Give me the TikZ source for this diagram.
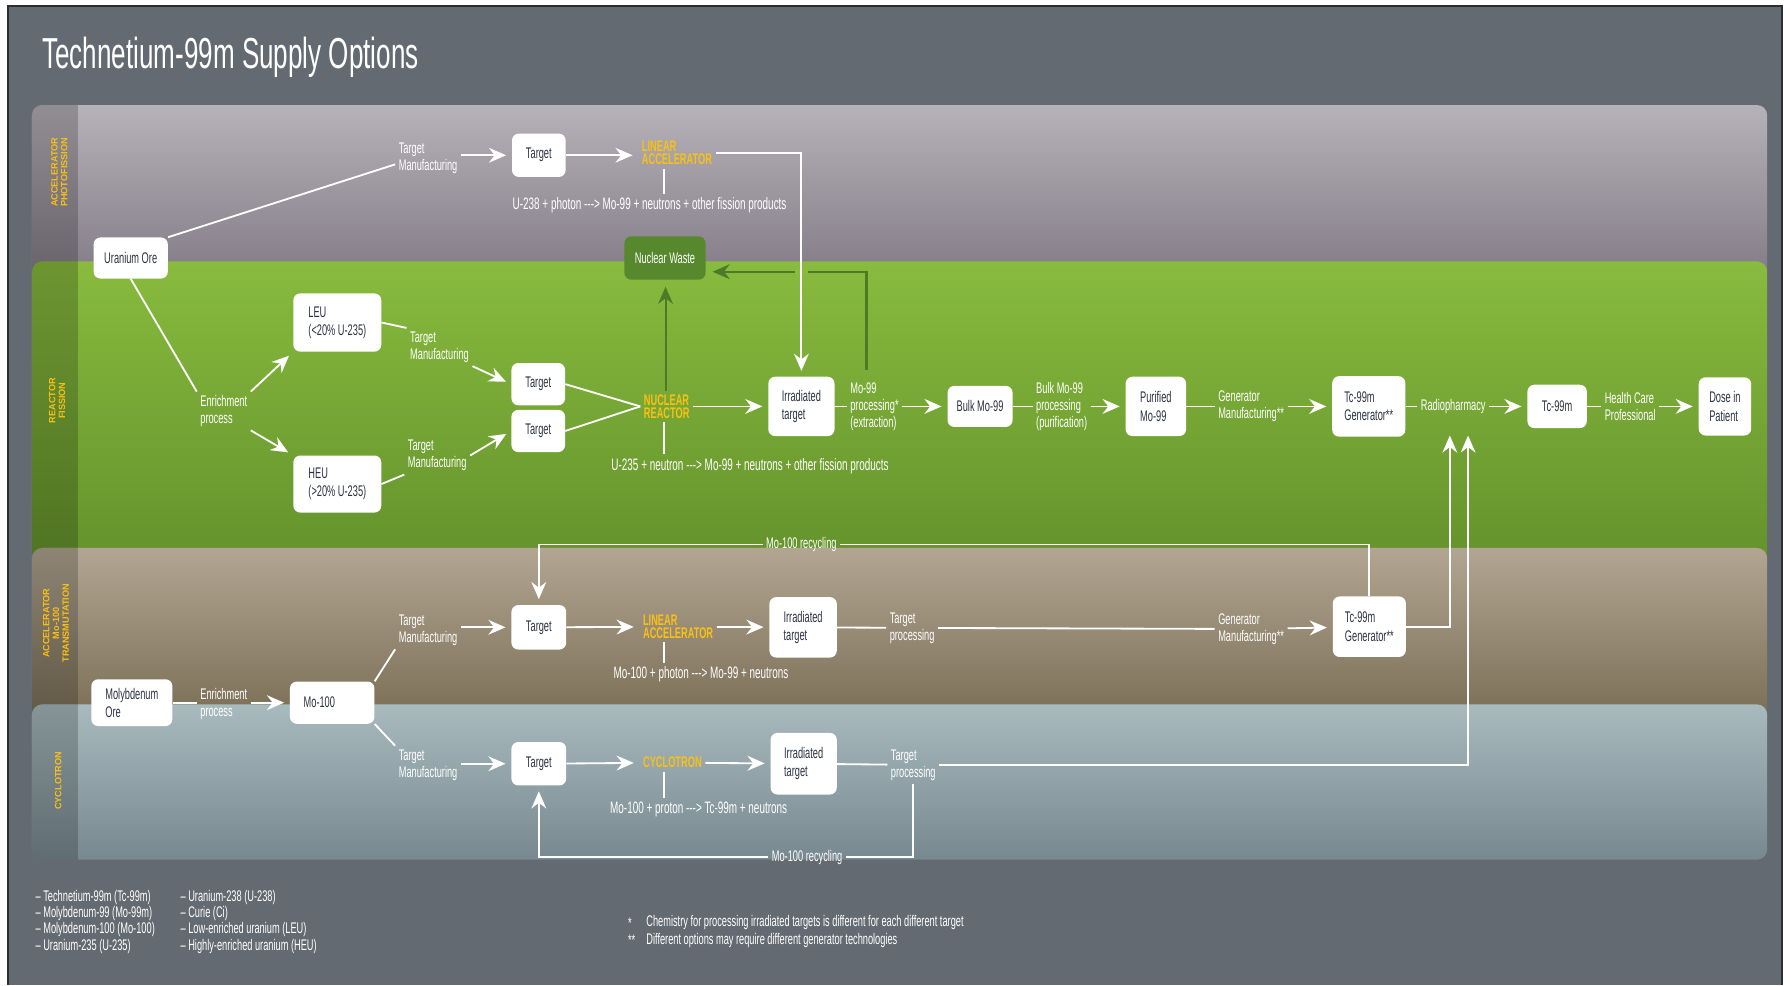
\documentclass[tikz,border=0pt]{standalone}
\usepackage{fontspec}
\setmainfont[FakeStretch=0.6]{Liberation Sans}
\newfontfamily\sidefont{Liberation Sans}
\usetikzlibrary{arrows.meta,calc}

\definecolor{bgcol}{RGB}{100,106,113}
\definecolor{framecol}{RGB}{45,45,48}
\definecolor{bandAt}{RGB}{182,178,184}
\definecolor{bandAb}{RGB}{130,123,134}
\definecolor{bandBt}{RGB}{136,187,62}
\definecolor{bandBb}{RGB}{100,146,44}
\definecolor{bandCt}{RGB}{178,166,146}
\definecolor{bandCb}{RGB}{122,110,86}
\definecolor{bandDt}{RGB}{168,186,190}
\definecolor{bandDb}{RGB}{120,136,144}
\definecolor{wastebox}{RGB}{88,136,46}
\definecolor{wasteline}{RGB}{76,122,38}
\definecolor{yel}{RGB}{250,192,20}
\definecolor{boxtxt}{RGB}{45,50,65}

\newcommand\boxfont{\fontsize{13.5}{16}\selectfont}
\newcommand\lblfont{\fontsize{13.5}{15}\selectfont}
\newcommand\srcfont{\bfseries\fontsize{13.5}{11.7}\selectfont}
\newcommand\rxfont{\fontsize{14.5}{16}\selectfont}
\newcommand\legfont{\fontsize{13.5}{14.3}\selectfont}
\newcommand\yields{-{}-{}->}

\tikzset{
  box/.style={fill=white, rounded corners=6pt, text=boxtxt, align=left, inner sep=2pt, font=\boxfont},
  tgt/.style={box, align=center, minimum width=47pt, minimum height=37pt},
  lbl/.style={text=white, align=left, inner sep=3pt, font=\lblfont},
  src/.style={text=yel, align=left, inner sep=3pt, font=\srcfont},
  rx/.style={text=white, inner sep=3pt, font=\rxfont},
  side/.style={text=yel, rotate=90, align=center, inner sep=0pt, font=\sidefont\bfseries\fontsize{8}{8.6}\selectfont},
  wire/.style={white, line width=1.6pt},
  arr/.style={wire, -{Stealth[length=15pt,width=13pt,inset=5pt]}, shorten >=5pt},
  warr/.style={wasteline, line width=1.8pt, -{Stealth[length=15pt,width=13pt,inset=5pt]}, shorten >=6pt}
}

\begin{document}
\begin{tikzpicture}[x=1pt,y=-1pt]
  \useasboundingbox (0,0) rectangle (1568,863);
  \fill[white] (0,0) rectangle (1568,863);
  \fill[bgcol] (7,5) rectangle (1561,863);
  \draw[framecol, line width=1.5pt] (7,863) -- (7,5) -- (1561,5) -- (1561,863);

  \node[anchor=base west, text=white, inner sep=0pt, font=\fontsize{38}{40}\selectfont] (title) at (37,60) {Technetium-99m Supply Options};

  % bands
  \foreach \ya/\yb/\ct/\cb in {92/245/bandAt/bandAb, 229/492/bandBt/bandBb, 480/629/bandCt/bandCb, 617/753/bandDt/bandDb}{
    \shade[top color=\ct, bottom color=\cb, rounded corners=9pt] (28,\ya) rectangle (1548,\yb);
    \begin{scope}
      \clip[rounded corners=9pt] (28,\ya) rectangle (1548,\yb);
      \fill[black, opacity=.2] (28,\ya) rectangle (68,\yb);
    \end{scope}
  }
  \node[side] (sa) at (52,151) {ACCELERATOR\\PHOTOFISSION};
  \node[side] (sb) at (50,351) {REACTOR\\FISSION};
  \node[side] (sc) at (49,546) {ACCELERATOR\\Mo-100\\TRANSMUTATION};
  \node[side] (sd) at (51,684) {CYCLOTRON};

  % accelerator photofission
  \node[box, align=center, minimum width=65pt, minimum height=36pt] (uore) at (114.5,226) {Uranium Ore};
  \node[lbl] (tma) at (375,139) {Target\\Manufacturing};
  \node[tgt, minimum height=38pt] (tga) at (472,136) {Target};
  \node[src] (lina) at (593,134) {LINEAR\\ACCELERATOR};
  \node[rx] (rxa) at (569,180) {U-238 + photon \yields{} Mo-99 + neutrons + other fission products};
  \node[box, fill=wastebox, text=white, align=center, minimum width=71pt, minimum height=38pt] (waste) at (582.5,226) {Nuclear Waste};

  % reactor fission
  \node[lbl] (enra) at (196,360) {Enrichment\\process};
  \node[box, minimum width=77pt, minimum height=51pt] (leu) at (295.5,282.5) {LEU\\(<20\% U-235)};
  \node[box, minimum width=77pt, minimum height=50pt] (heu) at (295.5,424) {HEU\\(>20\% U-235)};
  \node[lbl] (tmb) at (385,304) {Target\\Manufacturing};
  \node[lbl] (tmc) at (383,399) {Target\\Manufacturing};
  \node[tgt] (tgb) at (471.5,336.5) {Target};
  \node[tgt] (tgc) at (471.5,377.5) {Target};
  \node[src] (reac) at (584,356) {NUCLEAR\\REACTOR};
  \node[rx] (rxb) at (657,408) {U-235 + neutron \yields{} Mo-99 + neutrons + other fission products};
  \node[box, minimum width=58pt, minimum height=52pt] (irb) at (702,356) {Irradiated\\target};
  \node[lbl] (mop) at (766,356) {Mo-99\\processing*\\(extraction)};
  \node[box, align=center, minimum width=57pt, minimum height=36pt] (bulk) at (858.5,356) {Bulk Mo-99};
  \node[lbl] (bpp) at (930,356) {Bulk Mo-99\\processing\\(purification)};
  \node[box, minimum width=53pt, minimum height=52pt] (puri) at (1012.5,356) {Purified\\Mo-99};
  \node[lbl] (gma) at (1096,356) {Generator\\Manufacturing**};
  \node[box, minimum width=64pt, minimum height=53pt] (gena) at (1199,356) {Tc-99m\\Generator**};
  \node[lbl] (radio) at (1273,356) {Radiopharmacy};
  \node[box, align=center, minimum width=52pt, minimum height=38pt] (tc) at (1364,356) {Tc-99m};
  \node[lbl] (hcp) at (1428,356) {Health Care\\Professional};
  \node[box, minimum width=46pt, minimum height=51pt] (dose) at (1511,356) {Dose in\\Patient};

  % accelerator Mo-100 transmutation
  \node[box, minimum width=71pt, minimum height=41pt] (moore) at (115.5,615.5) {Molybdenum\\Ore};
  \node[lbl] (enrb) at (196,617) {Enrichment\\process};
  \node[box, text width=50pt, inner xsep=12pt, minimum height=37pt] (mo100) at (291,615.5) {Mo-100};
  \node[lbl] (tmd) at (375,552) {Target\\Manufacturing};
  \node[tgt, minimum width=48pt, minimum height=39pt] (tgd) at (472,549.5) {Target};
  \node[src] (linb) at (594,549) {LINEAR\\ACCELERATOR};
  \node[rx] (rxc) at (614,591) {Mo-100 + photon \yields{} Mo-99 + neutrons};
  \node[box, minimum width=59pt, minimum height=53pt] (ird) at (703.5,549.5) {Irradiated\\target};
  \node[lbl] (tpd) at (799,550) {Target\\processing};
  \node[lbl] (gmd) at (1096,551) {Generator\\Manufacturing**};
  \node[box, minimum width=64pt, minimum height=53pt] (gend) at (1199.5,549) {Tc-99m\\Generator**};
  \node[lbl] (rcd) at (702,477) {Mo-100 recycling};

  % cyclotron
  \node[lbl] (tme) at (375,670) {Target\\Manufacturing};
  \node[tgt, minimum width=48pt, minimum height=38pt] (tge) at (472,669) {Target};
  \node[src] (cyc) at (589,668) {CYCLOTRON};
  \node[rx] (rxe) at (612,709) {Mo-100 + proton \yields{} Tc-99m + neutrons};
  \node[box, minimum width=58pt, minimum height=54pt] (ire) at (704,669) {Irradiated\\target};
  \node[lbl] (tpe) at (800,670) {Target\\processing};
  \node[lbl] (rce) at (707,751) {Mo-100 recycling};

  % connectors, photofission
  \draw[wire] (uore.north east) -- ([yshift=-5pt]tma.west);
  \draw[arr] (tma.east |- tga.west) -- (tga.west);
  \draw[arr] (tga.east) -- (tga.east -| lina.west);
  \draw[wire] ([xshift=-11pt]lina.south) -- ([xshift=-11pt]lina.south |- rxa.north);

  % connectors, reactor
  \draw[wire] (uore.south) -- (enra.north west);
  \draw[arr] (enra.north east) -- (leu.south west);
  \draw[arr] (enra.south east) -- (heu.north west);
  \draw[wire] (leu.east) -- (tmb.north west);
  \draw[arr] (tmb.south east) -- (tgb.west);
  \draw[wire] (heu.east) -- (tmc.south west);
  \draw[arr] (tmc.east) -- (tgc.west);
  \draw[wire] (tgb.east) -- (reac.west);
  \draw[wire] (tgc.east) -- (reac.west);
  \draw[warr] ([xshift=-1pt]reac.north) -- ([xshift=-1pt]reac.north |- waste.south);
  \draw[wire] ([xshift=-2pt]reac.south) -- ([xshift=-2pt]reac.south |- rxb.north);
  \draw[warr, shorten <=8pt] ([xshift=-7pt]mop.north) |- ([yshift=-12pt]waste.east);
  \coordinate (cross) at ($(irb.north |- waste.east)+(0,12)$);
  \fill[bandBt] ($(cross)+(-6,-3)$) rectangle ($(cross)+(6,3)$);
  \draw[arr] (lina.east) -| (irb.north);
  \draw[arr] (reac) -- (irb);
  \draw[wire] (irb) -- (mop);
  \draw[arr] (mop) -- (bulk);
  \draw[wire] (bulk) -- (bpp);
  \draw[arr] (bpp) -- (puri);
  \draw[wire] (puri) -- (gma);
  \draw[arr] (gma) -- (gena);
  \draw[wire] (gena) -- (radio);
  \draw[arr] (radio) -- (tc);
  \draw[wire] (tc) -- (hcp);
  \draw[arr] (hcp) -- (dose);

  % connectors, transmutation
  \draw[wire] (moore.east) -- (moore.east -| enrb.west);
  \draw[arr] (enrb.east |- mo100.west) -- (mo100.west);
  \draw[wire] (mo100.north east) -- (tmd.south west);
  \draw[wire] (mo100.south east) -- (tme.north west);
  \draw[arr] (tmd.east |- tgd.west) -- (tgd.west);
  \draw[arr] (tgd) -- (linb);
  \draw[wire] ([xshift=-12pt]linb.south) -- ([xshift=-12pt]linb.south |- rxc.north);
  \draw[arr] (linb) -- (ird);
  \draw[wire] (ird) -- (tpd);
  \draw[wire] (tpd) -- (gmd);
  \draw[arr] (gmd) -- (gend);
  \draw[arr, shorten >=16pt] (gend.east) -| ([xshift=-3pt]radio.south);
  \draw[wire] (gend.north) |- (rcd.east);
  \draw[arr] (rcd.west) -| (tgd.north);

  % connectors, cyclotron
  \draw[arr] (tme.east |- tge.west) -- (tge.west);
  \draw[arr] (tge) -- (cyc);
  \draw[wire] ([xshift=-7pt]cyc.south) -- ([xshift=-7pt]cyc.south |- rxe.north);
  \draw[arr] (cyc) -- (ire);
  \draw[wire] (ire) -- (tpe);
  \draw[arr, shorten >=16pt] (tpe.east) -| ([xshift=13pt]radio.south);
  \draw[wire] (tpe.south) |- (rce.east);
  \draw[arr] (rce.west) -| (tge.south);

  % legend and notes
  \node[lbl, anchor=west, inner sep=0pt, font=\legfont] (lega) at (31,807.5) {-- Technetium-99m (Tc-99m)\\-- Molybdenum-99 (Mo-99m)\\-- Molybdenum-100 (Mo-100)\\-- Uranium-235 (U-235)};
  \node[lbl, anchor=west, inner sep=0pt, font=\legfont] (legb) at (158,807.5) {-- Uranium-238 (U-238)\\-- Curie (Ci)\\-- Low-enriched uranium (LEU)\\-- Highly-enriched uranium (HEU)};
  \node[lbl, anchor=west, inner sep=0pt, font=\legfont] (stars) at (550,816) {*\\**};
  \node[lbl, anchor=west, inner sep=0pt, font=\fontsize{13.5}{15}\selectfont] (notes) at (566,816) {Chemistry for processing irradiated targets is different for each different target\\Different options may require different generator technologies};
\end{tikzpicture}
\end{document}
